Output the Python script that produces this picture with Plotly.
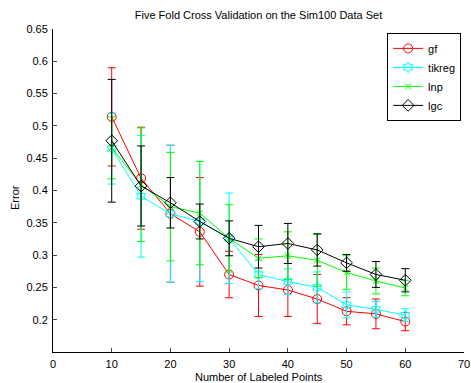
import plotly.graph_objects as go

x = [10, 15, 20, 25, 30, 35, 40, 45, 50, 55, 60]

gf = [0.514, 0.419, 0.364, 0.336, 0.270, 0.253, 0.246, 0.232, 0.213, 0.209, 0.197]
gf_err = [0.076, 0.079, 0.106, 0.084, 0.036, 0.048, 0.041, 0.038, 0.021, 0.023, 0.014]

tikreg = [0.465, 0.391, 0.364, 0.352, 0.326, 0.270, 0.259, 0.250, 0.223, 0.216, 0.207]
tikreg_err = [0.055, 0.094, 0.106, 0.093, 0.070, 0.022, 0.020, 0.024, 0.020, 0.012, 0.010]

lnp = [0.466, 0.409, 0.375, 0.365, 0.326, 0.295, 0.299, 0.292, 0.273, 0.260, 0.249]
lnp_err = [0.048, 0.088, 0.084, 0.080, 0.052, 0.030, 0.037, 0.040, 0.026, 0.020, 0.012]

lgc = [0.477, 0.407, 0.381, 0.352, 0.326, 0.313, 0.318, 0.308, 0.288, 0.270, 0.261]
lgc_err = [0.095, 0.062, 0.039, 0.027, 0.027, 0.033, 0.031, 0.025, 0.013, 0.020, 0.018]

series = [
    ("gf", gf, gf_err, "#FF0000", "circle-open", 9),
    ("tikreg", tikreg, tikreg_err, "#00FFFF", "hexagram-open", 8),
    ("lnp", lnp, lnp_err, "#00FF00", "x-thin-open", 6),
    ("lgc", lgc, lgc_err, "#000000", "diamond-open", 9),
]

y_ticks = [0.2, 0.25, 0.3, 0.35, 0.4, 0.45, 0.5, 0.55, 0.6, 0.65]
y_ticktext = ["0.2", "0.25", "0.3", "0.35", "0.4", "0.45", "0.5", "0.55", "0.6", "0.65"]
x_ticks = [0, 10, 20, 30, 40, 50, 60, 70]

fig = go.Figure()
for name, vals, err, color, sym, size in series:
    fig.add_trace(go.Scatter(
        x=x, y=vals, name=name, mode="lines+markers",
        line=dict(color=color, width=1),
        marker=dict(symbol=sym, size=size, color=color, line=dict(color=color, width=1)),
        error_y=dict(type="data", array=err, visible=True, color=color, thickness=1, width=4),
    ))

W, H = 471, 383
L, R, T, B = 53, 7, 29, 31
pw, ph = W - L - R, H - T - B

font = "Liberation Sans, Arial, sans-serif"
fig.update_layout(
    width=W, height=H,
    margin=dict(l=L, r=R, t=T, b=B),
    paper_bgcolor="white", plot_bgcolor="white",
    font=dict(family=font, size=11, color="black"),
    title=dict(text="Five Fold Cross Validation on the Sim100 Data Set",
               x=(L + W - R) / 2 / W, xanchor="center", y=1 - 15 / H, yanchor="middle",
               font=dict(size=11, family=font, color="black")),
    showlegend=True,
    legend=dict(x=0.993, y=0.988, xanchor="right", yanchor="top",
                bordercolor="black", borderwidth=1, bgcolor="white",
                font=dict(size=11), tracegroupgap=0, itemwidth=30),
    xaxis=dict(range=[0, 70], tickvals=x_ticks, ticks="inside", ticklen=4,
               ticklabelstandoff=2, automargin=False,
               showline=True, linecolor="black", linewidth=1, showgrid=False, zeroline=False),
    yaxis=dict(range=[0.15, 0.65], tickvals=y_ticks, ticktext=y_ticktext, ticks="inside", ticklen=4,
               ticklabelstandoff=2, automargin=False,
               showline=True, linecolor="black", linewidth=1, showgrid=False, zeroline=False),
    annotations=[
        dict(text="Number of Labeled Points", xref="paper", yref="paper",
             x=0.5, y=-(377 - (H - B)) / ph, xanchor="center", yanchor="middle",
             showarrow=False, font=dict(size=11)),
        dict(text="Error", xref="paper", yref="paper",
             x=-(L - 15) / pw, y=1 - (198 - T) / ph, xanchor="center", yanchor="middle",
             textangle=-90, showarrow=False, font=dict(size=11)),
    ],
)

fig.write_html("out.html")
